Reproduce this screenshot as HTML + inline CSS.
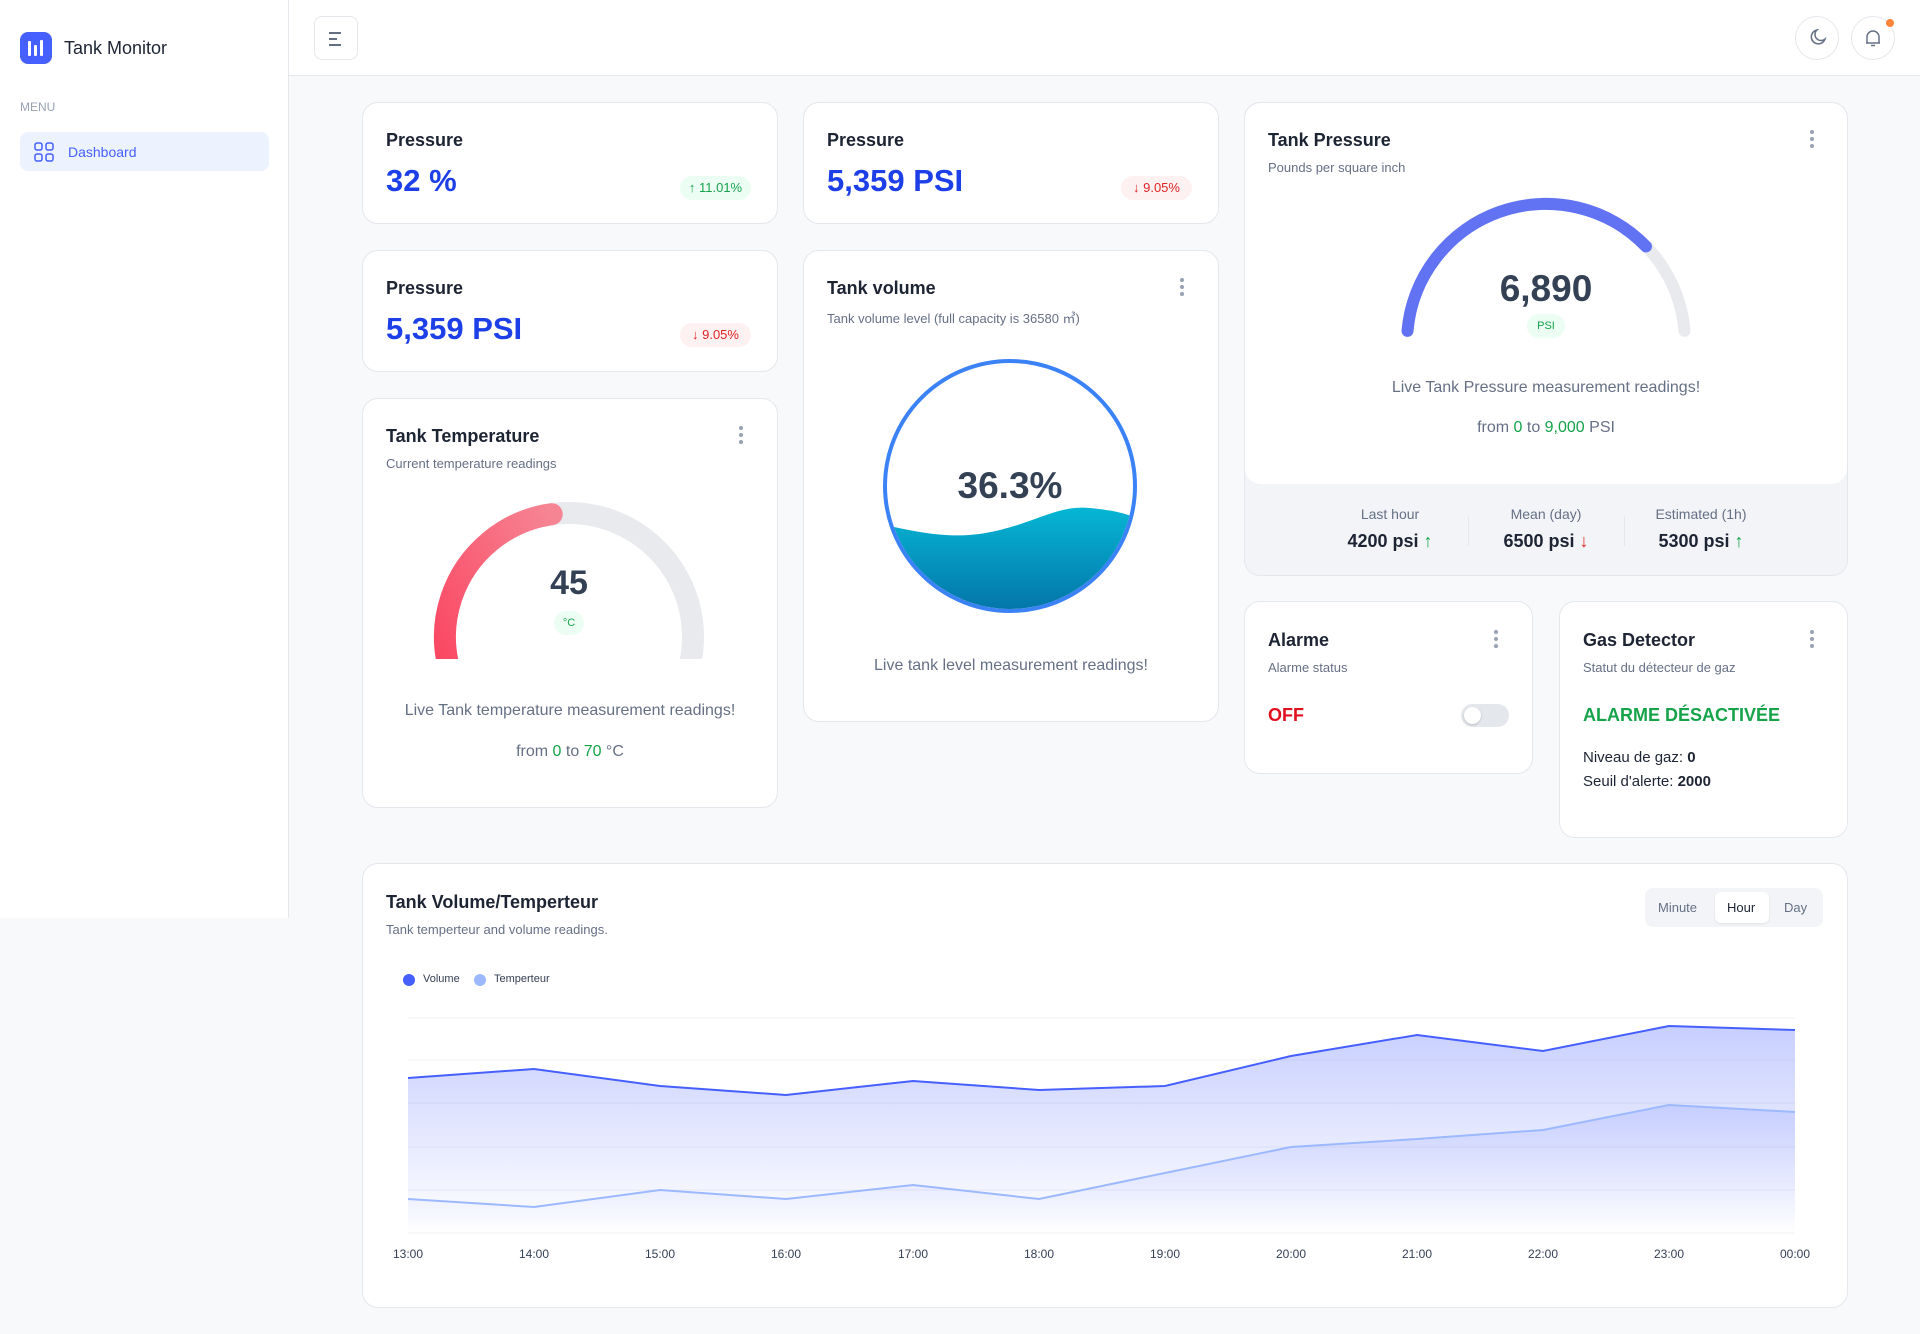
<!DOCTYPE html>
<html><head><meta charset="utf-8"><style>
*{box-sizing:border-box;margin:0;padding:0}
body{width:1920px;height:1334px;background:#f8f9fb;font-family:"Liberation Sans",sans-serif;color:#1f2937;position:relative;overflow:hidden}
.a{position:absolute}
.card{position:absolute;background:#fff;border:1px solid #e4e7ec;border-radius:16px}
.t{position:absolute;font-size:18px;font-weight:bold;color:#1d2433;white-space:nowrap}
.s{position:absolute;font-size:13px;color:#667085;white-space:nowrap}
.v{position:absolute;font-size:31px;font-weight:bold;color:#1d3fe8;white-space:nowrap}
.bd{position:absolute;height:24px;border-radius:12px;font-size:13px;line-height:24px;text-align:center}
.up{background:#ecfdf3;color:#16a34a}.dn{background:#fef1f2;color:#e02424}
.dots{position:absolute;width:4px}
.dots i{display:block;width:4px;height:4px;border-radius:2px;background:#98a2b3;margin-bottom:3px}
.c{position:absolute;text-align:center;white-space:nowrap}
.g{color:#16a34a}
</style></head><body>
<!-- sidebar -->
<div class="a" style="left:0;top:0;width:289px;height:918px;background:#fff;border-right:1px solid #e4e7ec"></div>
<div class="a" style="left:20px;top:32px;width:32px;height:32px;border-radius:8px;background:#465fff">
<div class="a" style="left:8px;top:9px;width:3px;height:15px;background:#fff;border-radius:1px"></div>
<div class="a" style="left:14px;top:13px;width:3px;height:11px;background:#fff;border-radius:1px"></div>
<div class="a" style="left:20px;top:8px;width:3px;height:16px;background:#fff;border-radius:1px"></div></div>
<div class="a" style="left:64px;top:38px;font-size:18px;color:#1d2433">Tank Monitor</div>
<div class="a" style="left:20px;top:100px;font-size:12px;color:#98a2b3">MENU</div>
<div class="a" style="left:20px;top:132px;width:249px;height:39px;border-radius:8px;background:#ecf3ff"></div>
<svg class="a" style="left:34px;top:142px" width="20" height="20" viewBox="0 0 20 20" fill="none" stroke="#465fff" stroke-width="1.5"><rect x="1" y="1" width="7" height="7" rx="2"/><rect x="12" y="1" width="7" height="7" rx="2"/><rect x="1" y="12" width="7" height="7" rx="2"/><rect x="12" y="12" width="7" height="7" rx="2"/></svg>
<div class="a" style="left:68px;top:144px;font-size:14px;color:#465fff">Dashboard</div>
<!-- header -->
<div class="a" style="left:289px;top:0;width:1631px;height:76px;background:#fff;border-bottom:1px solid #e4e7ec"></div>
<div class="a" style="left:314px;top:16px;width:44px;height:44px;border:1px solid #e4e7ec;border-radius:8px">
<div class="a" style="left:14px;top:15px;width:12px;height:2px;background:#667085"></div>
<div class="a" style="left:14px;top:21px;width:8px;height:2px;background:#667085"></div>
<div class="a" style="left:14px;top:27px;width:12px;height:2px;background:#667085"></div></div>
<div class="a" style="left:1795px;top:16px;width:44px;height:44px;border:1px solid #e4e7ec;border-radius:22px"></div>
<svg class="a" style="left:1807px;top:28px" width="20" height="20" viewBox="0 0 20 20" fill="none" stroke="#667085" stroke-width="1.5"><path d="M10 2a7 7 0 1 0 8 9A6 6 0 0 1 10 2z"/></svg>
<div class="a" style="left:1851px;top:16px;width:44px;height:44px;border:1px solid #e4e7ec;border-radius:22px"></div>
<svg class="a" style="left:1863px;top:28px" width="20" height="20" viewBox="0 0 20 20" fill="none" stroke="#667085" stroke-width="1.5"><path d="M4 15V9a6 6 0 0 1 12 0v6zM3 15h14M8 17.5h4"/></svg>
<div class="a" style="left:1886px;top:19px;width:8px;height:8px;border-radius:4px;background:#fd853a"></div>

<!-- pressure cards -->
<div class="card" style="left:362px;top:102px;width:416px;height:122px"></div>
<div class="t" style="left:386px;top:130px">Pressure</div>
<div class="v" style="left:386px;top:163px">32 %</div>
<div class="bd up" style="left:680px;top:176px;width:71px">↑ 11.01%</div>
<div class="card" style="left:803px;top:102px;width:416px;height:122px"></div>
<div class="t" style="left:827px;top:130px">Pressure</div>
<div class="v" style="left:827px;top:163px">5,359 PSI</div>
<div class="bd dn" style="left:1121px;top:176px;width:71px">↓ 9.05%</div>
<div class="card" style="left:362px;top:250px;width:416px;height:122px"></div>
<div class="t" style="left:386px;top:278px">Pressure</div>
<div class="v" style="left:386px;top:311px">5,359 PSI</div>
<div class="bd dn" style="left:680px;top:323px;width:71px">↓ 9.05%</div>

<!-- temperature -->
<div class="card" style="left:362px;top:398px;width:416px;height:410px;z-index:-1"></div>
<div class="t" style="left:386px;top:426px">Tank Temperature</div>
<div class="s" style="left:386px;top:456px">Current temperature readings</div>
<div class="dots" style="left:739px;top:426px"><i></i><i></i><i></i></div>
<!-- volume card bg -->
<div class="card" style="left:803px;top:250px;width:416px;height:472px;z-index:-1"></div>
<svg class="a" style="left:0;top:0" width="1920" height="1334">
<defs><linearGradient id="rg" x1="0" y1="1" x2="1" y2="0"><stop offset="0" stop-color="#fb3e5b"/><stop offset="1" stop-color="#f68594"/></linearGradient>
<clipPath id="tc"><rect x="400" y="480" width="340" height="179"/></clipPath>
<clipPath id="wc"><circle cx="1010" cy="486" r="123"/></clipPath>
<linearGradient id="wg" x1="0" y1="0" x2="0" y2="1"><stop offset="0" stop-color="#06b6d4"/><stop offset="1" stop-color="#0369a1"/></linearGradient>
<linearGradient id="ag" x1="0" y1="0" x2="0" y2="1"><stop offset="0" stop-color="#465fff" stop-opacity="0.3"/><stop offset="1" stop-color="#465fff" stop-opacity="0"/></linearGradient>
</defs>
<g clip-path="url(#tc)" fill="none" stroke-width="22">
<path d="M481.3 724.7 A124 124 0 1 1 656.7 724.7" stroke="#e8eaee"/>
<path d="M481.3 724.7 A124 124 0 0 1 551.7 514.2" stroke="url(#rg)" stroke-linecap="round"/>
</g>
<circle cx="1010" cy="486" r="125" fill="#fff" stroke="#3b82f6" stroke-width="4"/>
<path clip-path="url(#wc)" d="M880 524 C930 535 960 540 1000 530 S1060 505 1090 508 S1130 515 1140 520 L1140 630 L880 630Z" fill="url(#wg)"/>
<path d="M1407.5 330.9 A139 139 0 0 1 1684.5 330.9" fill="none" stroke="#e8eaee" stroke-width="12" stroke-linecap="round"/>
<path d="M1407.5 330.9 A139 139 0 0 1 1646 246.4" fill="none" stroke="#6172f3" stroke-width="12" stroke-linecap="round"/>
</svg>
<div class="c" style="left:469px;top:564px;width:200px;font-size:34px;font-weight:bold;color:#344054">45</div>
<div class="bd up" style="left:554px;top:611px;width:30px;font-size:11px">°C</div>
<div class="c" style="left:362px;top:702px;width:416px;font-size:16px;color:#667085">Live Tank temperature measurement readings!</div>
<div class="c" style="left:362px;top:743px;width:416px;font-size:16px;color:#667085">from <span class="g">0</span> to <span class="g">70</span> °C</div>

<!-- volume -->
<div class="t" style="left:827px;top:278px">Tank volume</div>
<div class="s" style="left:827px;top:308px">Tank volume level (full capacity is 36580 ㎥)</div>
<div class="dots" style="left:1180px;top:278px"><i></i><i></i><i></i></div>
<div class="c" style="left:910px;top:465px;width:200px;font-size:37px;font-weight:bold;color:#344054">36.3%</div>
<div class="c" style="left:803px;top:657px;width:416px;font-size:16px;color:#667085">Live tank level measurement readings!</div>

<!-- tank pressure -->
<div class="card" style="left:1244px;top:102px;width:604px;height:474px;background:#f2f4f7;z-index:-2"></div>
<div class="a" style="left:1245px;top:103px;width:602px;height:381px;background:#fff;border-radius:16px;z-index:-1"></div>
<div class="t" style="left:1268px;top:130px">Tank Pressure</div>
<div class="s" style="left:1268px;top:160px">Pounds per square inch</div>
<div class="dots" style="left:1810px;top:130px"><i></i><i></i><i></i></div>
<div class="c" style="left:1446px;top:268px;width:200px;font-size:37px;font-weight:bold;color:#344054">6,890</div>
<div class="bd up" style="left:1527px;top:314px;width:38px;font-size:11px">PSI</div>
<div class="c" style="left:1244px;top:379px;width:604px;font-size:16px;color:#667085">Live Tank Pressure measurement readings!</div>
<div class="c" style="left:1244px;top:419px;width:604px;font-size:16px;color:#667085">from <span class="g">0</span> to <span class="g">9,000</span> PSI</div>
<div class="a" style="left:1468px;top:516px;width:1px;height:30px;background:#e4e7ec"></div>
<div class="a" style="left:1624px;top:516px;width:1px;height:30px;background:#e4e7ec"></div>
<div class="c" style="left:1310px;top:506px;width:160px;font-size:14px;color:#667085">Last hour</div>
<div class="c" style="left:1310px;top:531px;width:160px;font-size:18px;font-weight:bold;color:#1d2433">4200 psi <span class="g">↑</span></div>
<div class="c" style="left:1466px;top:506px;width:160px;font-size:14px;color:#667085">Mean (day)</div>
<div class="c" style="left:1466px;top:531px;width:160px;font-size:18px;font-weight:bold;color:#1d2433">6500 psi <span style="color:#e02424">↓</span></div>
<div class="c" style="left:1621px;top:506px;width:160px;font-size:14px;color:#667085">Estimated (1h)</div>
<div class="c" style="left:1621px;top:531px;width:160px;font-size:18px;font-weight:bold;color:#1d2433">5300 psi <span class="g">↑</span></div>

<!-- alarme -->
<div class="card" style="left:1244px;top:601px;width:289px;height:173px"></div>
<div class="t" style="left:1268px;top:630px">Alarme</div>
<div class="s" style="left:1268px;top:660px">Alarme status</div>
<div class="dots" style="left:1494px;top:630px"><i></i><i></i><i></i></div>
<div class="a" style="left:1268px;top:705px;font-size:18px;font-weight:bold;color:#e0101e">OFF</div>
<div class="a" style="left:1461px;top:704px;width:48px;height:23px;border-radius:12px;background:#e4e7ec"></div>
<div class="a" style="left:1464px;top:707px;width:17px;height:17px;border-radius:9px;background:#fff;box-shadow:0 1px 2px rgba(0,0,0,.2)"></div>

<!-- gas -->
<div class="card" style="left:1559px;top:601px;width:289px;height:237px"></div>
<div class="t" style="left:1583px;top:630px">Gas Detector</div>
<div class="s" style="left:1583px;top:660px">Statut du détecteur de gaz</div>
<div class="dots" style="left:1810px;top:630px"><i></i><i></i><i></i></div>
<div class="a" style="left:1583px;top:705px;font-size:18px;font-weight:bold;color:#16a34a">ALARME DÉSACTIVÉE</div>
<div class="a" style="left:1583px;top:749px;font-size:15px;color:#1d2433">Niveau de gaz: <b>0</b></div>
<div class="a" style="left:1583px;top:773px;font-size:15px;color:#1d2433">Seuil d'alerte: <b>2000</b></div>

<!-- chart -->
<div class="card" style="left:362px;top:863px;width:1486px;height:445px;z-index:-1"></div>
<div class="t" style="left:386px;top:892px">Tank Volume/Temperteur</div>
<div class="s" style="left:386px;top:922px">Tank temperteur and volume readings.</div>
<div class="a" style="left:1645px;top:888px;width:178px;height:39px;border-radius:8px;background:#f2f4f7"></div>
<div class="a" style="left:1715px;top:892px;width:54px;height:31px;border-radius:6px;background:#fff;box-shadow:0 1px 2px rgba(0,0,0,.08)"></div>
<div class="a" style="left:1658px;top:900px;font-size:13px;color:#667085">Minute</div>
<div class="a" style="left:1727px;top:900px;font-size:13px;color:#1d2433">Hour</div>
<div class="a" style="left:1784px;top:900px;font-size:13px;color:#667085">Day</div>
<div class="a" style="left:403px;top:974px;width:12px;height:12px;border-radius:6px;background:#465fff"></div>
<div class="a" style="left:423px;top:973px;font-size:11px;color:#344054">Volume</div>
<div class="a" style="left:474px;top:974px;width:12px;height:12px;border-radius:6px;background:#9cb9ff"></div>
<div class="a" style="left:494px;top:973px;font-size:11px;color:#344054">Temperteur</div>
<svg class="a" style="left:0;top:0" width="1920" height="1334">
<defs><linearGradient id="ag2" x1="0" y1="0" x2="0" y2="1"><stop offset="0" stop-color="#465fff" stop-opacity="0.3"/><stop offset="1" stop-color="#465fff" stop-opacity="0"/></linearGradient></defs>
<g stroke="#f0f1f4" stroke-width="1"><line x1="408" x2="1795" y1="1018" y2="1018"/><line x1="408" x2="1795" y1="1060" y2="1060"/><line x1="408" x2="1795" y1="1103" y2="1103"/><line x1="408" x2="1795" y1="1147" y2="1147"/><line x1="408" x2="1795" y1="1190" y2="1190"/><line x1="408" x2="1795" y1="1233" y2="1233"/></g>
<path d="M408 1078 L534 1069 L660 1086 L786 1095 L913 1081 L1039 1090 L1165 1086 L1291 1056 L1417 1035 L1543 1051 L1669 1026 L1795 1030 L1795 1233 L408 1233Z" fill="url(#ag2)"/>
<path d="M408 1199 L534 1207 L660 1190 L786 1199 L913 1185 L1039 1199 L1165 1173 L1291 1147 L1417 1139 L1543 1130 L1669 1105 L1795 1112 L1795 1233 L408 1233Z" fill="url(#ag2)" opacity="0.5"/>
<polyline points="408,1078 534,1069 660,1086 786,1095 913,1081 1039,1090 1165,1086 1291,1056 1417,1035 1543,1051 1669,1026 1795,1030" fill="none" stroke="#465fff" stroke-width="2"/>
<polyline points="408,1199 534,1207 660,1190 786,1199 913,1185 1039,1199 1165,1173 1291,1147 1417,1139 1543,1130 1669,1105 1795,1112" fill="none" stroke="#9cb9ff" stroke-width="2"/>
<g font-family="Liberation Sans" font-size="12" fill="#344054" text-anchor="middle">
<text x="408" y="1258">13:00</text><text x="534" y="1258">14:00</text><text x="660" y="1258">15:00</text><text x="786" y="1258">16:00</text><text x="913" y="1258">17:00</text><text x="1039" y="1258">18:00</text><text x="1165" y="1258">19:00</text><text x="1291" y="1258">20:00</text><text x="1417" y="1258">21:00</text><text x="1543" y="1258">22:00</text><text x="1669" y="1258">23:00</text><text x="1795" y="1258">00:00</text></g>
</svg>
</body></html>
